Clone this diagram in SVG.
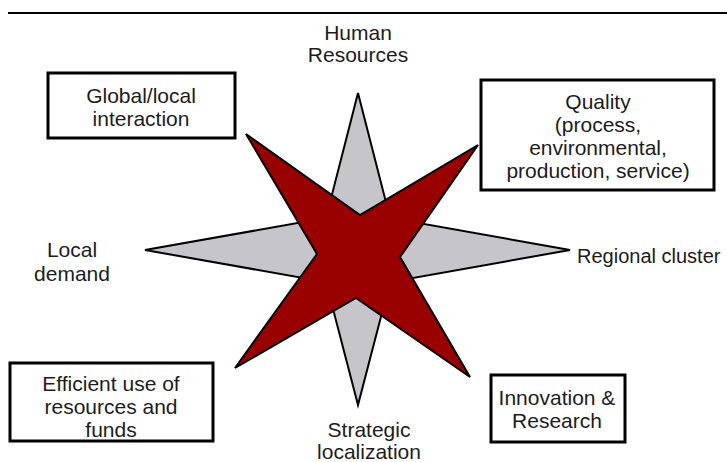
<svg xmlns="http://www.w3.org/2000/svg" width="727" height="462" viewBox="0 0 727 462">
  <style>
    .lbl { font-family: "Liberation Sans", Arial, sans-serif; font-size: 21px; fill: #1c1c1c; text-anchor: middle; }
    .box { fill: #ffffff; stroke: #000000; stroke-width: 3; }
    .gray { fill: #c6c5ca; stroke: #000000; stroke-width: 2; stroke-linejoin: miter; }
    .red { fill: #990000; stroke: #000000; stroke-width: 2; stroke-linejoin: miter; }
  </style>
  <rect width="727" height="462" fill="#ffffff"/>

  <!-- header rule -->
  <line x1="8" y1="13" x2="727" y2="13" stroke="#000000" stroke-width="2"/>

  <!-- compass star: gray four-point star behind, red diagonal star on top -->
  <g id="star">
    <polygon class="gray" points="358,93 390,218 570,250 390,282 358,405 326,282 145,250 326,218"/>
    <polygon class="red" points="246,134 360,215 478,145 400,257 470,377 356,298 235,368 317,254"/>
  </g>

  <!-- compass point labels -->
  <g id="human-resources">
    <text class="lbl" x="358" y="40">Human</text>
    <text class="lbl" x="358" y="62">Resources</text>
  </g>
  <g id="local-demand">
    <text class="lbl" x="72" y="257">Local</text>
    <text class="lbl" x="72" y="281">demand</text>
  </g>
  <g id="regional-cluster">
    <text class="lbl" x="577" y="263" style="text-anchor:start;font-size:20px">Regional cluster</text>
  </g>
  <g id="strategic-localization">
    <text class="lbl" x="369" y="437">Strategic</text>
    <text class="lbl" x="369" y="459">localization</text>
  </g>

  <!-- boxed labels -->
  <g id="global-local">
    <rect class="box" x="48" y="73" width="187" height="65"/>
    <text class="lbl" x="141" y="103">Global/local</text>
    <text class="lbl" x="141" y="126">interaction</text>
  </g>
  <g id="quality">
    <rect class="box" x="481" y="80" width="233" height="110"/>
    <text class="lbl" x="598" y="109">Quality</text>
    <text class="lbl" x="598" y="132">(process,</text>
    <text class="lbl" x="598" y="155">environmental,</text>
    <text class="lbl" x="598" y="178">production, service)</text>
  </g>
  <g id="efficient-use">
    <rect class="box" x="10" y="363" width="203" height="78"/>
    <text class="lbl" x="111" y="391">Efficient use of</text>
    <text class="lbl" x="111" y="414">resources and</text>
    <text class="lbl" x="111" y="437">funds</text>
  </g>
  <g id="innovation">
    <rect class="box" x="491" y="375" width="134" height="67"/>
    <text class="lbl" x="557" y="405">Innovation &amp;</text>
    <text class="lbl" x="557" y="428">Research</text>
  </g>
</svg>
